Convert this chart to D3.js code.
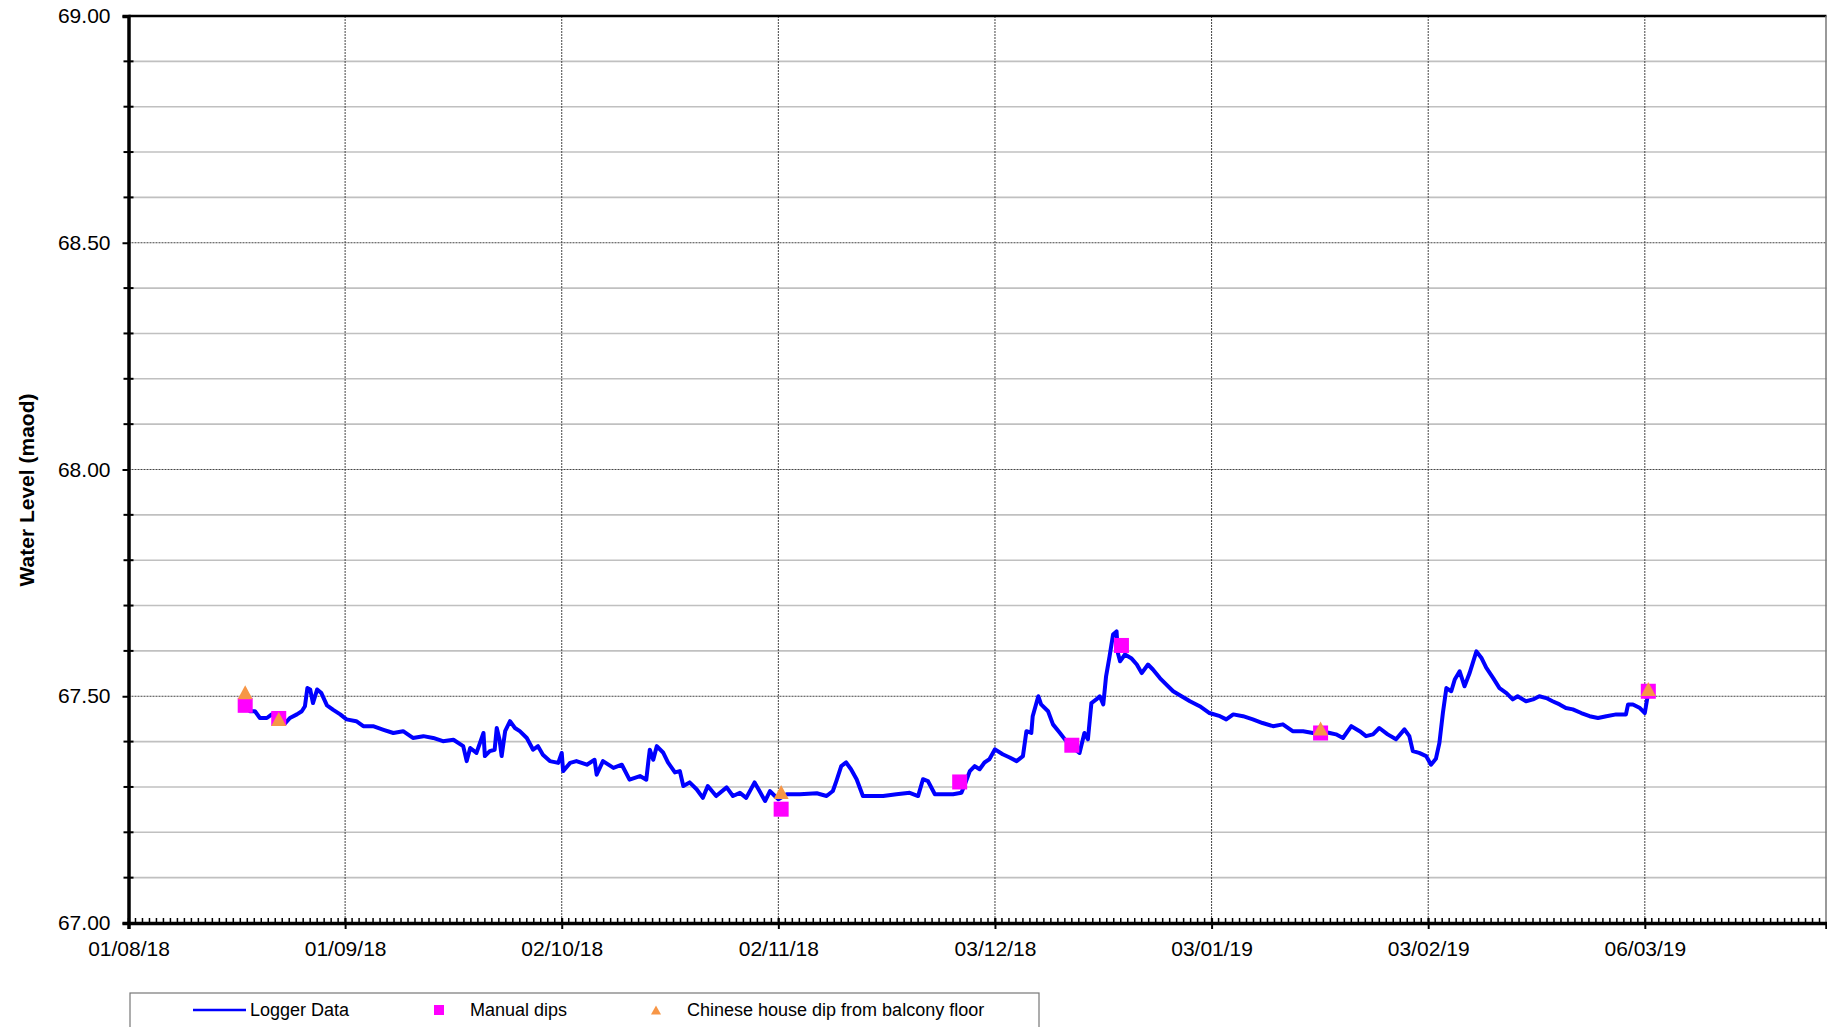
<!DOCTYPE html>
<html>
<head>
<meta charset="utf-8">
<script src="https://cdn.jsdelivr.net/npm/d3@7"></script>
<style>
  html, body { margin: 0; padding: 0; background: #fff; overflow: hidden; }
  svg { display: block; font-family: "Liberation Sans", Arial, sans-serif; }
</style>
</head>
<body>
<script>
// days after 01/08/18 -> water level (maod)
let loggerData = [
  [16.67,67.485],[17.38,67.467],[18.1,67.467],[18.8,67.452],[19.8,67.452],[20.5,67.46],[21.7,67.445],[22.4,67.44],
  [23.1,67.452],[24.1,67.46],[24.8,67.467],[25.25,67.478],[25.6,67.518],[26.0,67.515],[26.4,67.485],[27.0,67.515],
  [27.6,67.507],[28.4,67.48],[29.3,67.47],[30.3,67.46],[31.2,67.449],[32.6,67.445],[33.6,67.434],[35.0,67.434],
  [36.5,67.426],[37.9,67.419],[39.3,67.423],[40.7,67.408],[42.2,67.412],[43.6,67.408],[45.0,67.401],[46.5,67.404],
  [47.9,67.39],[48.4,67.357],[48.9,67.386],[49.8,67.375],[50.8,67.419],[51.0,67.368],[51.7,67.379],[52.4,67.382],
  [52.7,67.43],[53.1,67.404],[53.4,67.368],[53.9,67.423],[54.6,67.445],[55.3,67.43],[56.0,67.423],[57.0,67.408],
  [57.9,67.382],[58.6,67.39],[59.3,67.371],[60.3,67.357],[61.5,67.353],[62.0,67.375],[62.2,67.335],[63.2,67.353],
  [64.1,67.357],[65.6,67.349],[66.7,67.36],[67.0,67.327],[67.9,67.357],[69.4,67.342],[70.6,67.349],[71.7,67.316],
  [73.2,67.324],[74.1,67.316],[74.4,67.357],[74.6,67.382],[75.1,67.36],[75.6,67.39],
  [76.5,67.376],[77.2,67.354],[78.2,67.332],[78.9,67.335],[79.4,67.302],[80.3,67.31],[81.3,67.295],[82.2,67.276],
  [82.9,67.302],[84.1,67.28],[85.6,67.299],[86.5,67.28],[87.5,67.287],[88.4,67.276],[89.6,67.31],[90.3,67.291],
  [91.1,67.269],[91.8,67.291],[92.5,67.28],[93.0,67.273],[94.2,67.284],[96.1,67.284],[98.5,67.286],[99.9,67.28],
  [100.8,67.291],[101.3,67.313],[102.0,67.346],[102.7,67.354],[103.4,67.339],[104.2,67.317],[105.1,67.28],[106.1,67.28],
  [108.0,67.28],[109.9,67.284],[111.8,67.287],[113.0,67.28],[113.7,67.317],[114.4,67.313],[115.4,67.284],[116.6,67.284],
  [118.0,67.284],[119.2,67.287],[119.7,67.306],[120.4,67.335],[121.1,67.346],[121.8,67.339],[122.5,67.354],[123.2,67.361],
  [124.0,67.383],[125.1,67.372],[126.1,67.365],[127.1,67.357],[128.0,67.368],
  [128.5,67.423],[129.2,67.419],[129.4,67.456],[130.2,67.5],[130.6,67.482],[131.6,67.467],[132.3,67.438],[133.3,67.419],
  [134.2,67.401],[135.2,67.386],[136.1,67.375],[136.8,67.419],[137.3,67.405],[137.8,67.485],[138.5,67.493],[139.0,67.5],
  [139.5,67.482],[139.9,67.544],[140.4,67.588],[140.9,67.636],[141.4,67.643],[141.6,67.595],[141.9,67.577],[142.6,67.592],
  [143.5,67.584],[144.3,67.57],[145.0,67.551],[145.9,67.57],[146.6,67.559],[147.6,67.54],[148.5,67.526],[149.5,67.511],
  [150.7,67.5],[151.9,67.489],[153.3,67.478],[154.7,67.463],[156.2,67.456],[157.1,67.449],[158.1,67.46],[159.5,67.456],
  [160.9,67.449],[162.3,67.441],[163.8,67.434],[165.2,67.438],[166.6,67.423],[168.1,67.423],[169.5,67.419],[170.7,67.423],
  [171.9,67.419],[172.8,67.416],[173.8,67.408],[175.0,67.434],[176.2,67.423],[177.1,67.412],[178.1,67.416],[179.0,67.43],
  [180.2,67.416],[181.4,67.405],
  [182.6,67.427],[183.3,67.412],[183.8,67.379],[184.7,67.375],[185.7,67.368],[186.4,67.349],[187.1,67.362],[187.6,67.397],
  [188.1,67.463],[188.6,67.518],[189.3,67.511],[189.8,67.537],[190.5,67.555],[191.2,67.522],[191.9,67.55],[192.9,67.599],
  [193.6,67.585],[194.3,67.563],[195.3,67.54],[196.2,67.518],[197.2,67.507],[198.1,67.493],[198.8,67.5],[200.0,67.489],
  [201.0,67.493],[201.9,67.5],[202.9,67.496],[203.8,67.489],[204.8,67.482],[205.7,67.474],[206.7,67.471],[207.9,67.463],
  [209.1,67.456],[210.3,67.452],[211.5,67.456],[212.9,67.46],[214.3,67.46],[214.6,67.482],[215.3,67.482],[216.3,67.474],
  [217.0,67.463],[217.4,67.5]
]

let manualDips = [
  [16.7,67.48],[21.5,67.451],[93.4,67.251],[118.95,67.311],[135.0,67.392],[142.1,67.612],[170.6,67.419],[217.5,67.511]
]

let balconyDips = [
  [16.7,67.509],[21.5,67.45],[93.4,67.289],[170.6,67.429],[217.5,67.516]
]

let yMajorTicks = [67, 67.5, 68, 68.5, 69]
let tickEvery = 31   // days between date labels
let legendLabels = ["Logger Data", "Manual dips", "Chinese house dip from balcony floor"]

let width = 1827
let height = 1027
let plotLeft = 128.5
let plotRight = 1826.5
let plotTop = 16
let plotBottom = 923

let start = new Date(Date.UTC(2018, 7, 1))
let end = new Date(Date.UTC(2019, 3, 1))
let toDate = (d) => new Date(start.getTime() + d * 864e5)

let svg = d3.select("body").append("svg")
            .attr("width", width)
            .attr("height", height)

let xScale = d3.scaleUtc().domain([start, end]).range([plotLeft, plotRight])
let yScale = d3.scaleLinear().domain([67, 69]).range([plotBottom, plotTop])

let xTicks = d3.range(0, 218, tickEvery).map(toDate)
let yMinor = d3.range(670, 691).map(v => v / 10).filter(v => Math.round(v * 10) % 5 !== 0)
let days = d3.utcDay.range(start, end)

// minor horizontal grid
svg.append("g").selectAll("line")
    .data(yMinor)
    .enter().append("line")
    .attr("x1", plotLeft).attr("x2", plotRight)
    .attr("y1", d => yScale(d)).attr("y2", d => yScale(d))
    .attr("stroke", "#c0c0c0").attr("stroke-width", 1.6)

// major horizontal grid (dotted)
svg.append("g").selectAll("line")
    .data(yMajorTicks.slice(1, -1))
    .enter().append("line")
    .attr("x1", plotLeft).attr("x2", plotRight)
    .attr("y1", d => yScale(d)).attr("y2", d => yScale(d))
    .attr("stroke", "#444").attr("stroke-width", 1).attr("stroke-dasharray", "2,1")

// vertical grid (dotted)
svg.append("g").selectAll("line")
    .data(xTicks.slice(1))
    .enter().append("line")
    .attr("x1", d => xScale(d)).attr("x2", d => xScale(d))
    .attr("y1", plotTop).attr("y2", plotBottom)
    .attr("stroke", "#444").attr("stroke-width", 1).attr("stroke-dasharray", "2,1")

// plot frame: top and right
svg.append("line").attr("x1", plotLeft).attr("x2", plotRight).attr("y1", plotTop).attr("y2", plotTop)
    .attr("stroke", "#000").attr("stroke-width", 2.5)
svg.append("line").attr("x1", plotRight - 0.5).attr("x2", plotRight - 0.5).attr("y1", plotTop).attr("y2", plotBottom)
    .attr("stroke", "#777").attr("stroke-width", 1.5)

// logger line
let line = d3.line()
    .x(d => xScale(toDate(d[0])))
    .y(d => yScale(d[1]))

svg.append("path")
    .datum(loggerData)
    .attr("fill", "none")
    .attr("stroke", "#0000ff")
    .attr("stroke-width", 4)
    .attr("stroke-linejoin", "round")
    .attr("d", line)

// manual dips (squares)
svg.append("g").selectAll("rect")
    .data(manualDips)
    .enter().append("rect")
    .attr("x", d => xScale(toDate(d[0])) - 7.5)
    .attr("y", d => yScale(d[1]) - 7.5)
    .attr("width", 15).attr("height", 15)
    .attr("fill", "#ff00ff")

// balcony dips (triangles)
let tri = (cx, cy, w, h) => `M${cx - w / 2},${cy + h / 2}L${cx},${cy - h / 2}L${cx + w / 2},${cy + h / 2}Z`
svg.append("g").selectAll("path")
    .data(balconyDips)
    .enter().append("path")
    .attr("d", d => tri(xScale(toDate(d[0])), yScale(d[1]), 15, 14))
    .attr("fill", "#f79646")

// y axis
let yAxis = svg.append("g")
    .attr("transform", `translate(${plotLeft},0)`)
    .call(d3.axisLeft(yScale).tickValues(yMajorTicks).tickFormat(d3.format(".2f")).tickSize(6).tickPadding(12))
yAxis.select(".domain").attr("stroke", "#000").attr("stroke-width", 3.5)
yAxis.selectAll(".tick line").attr("stroke-width", 2)
yAxis.selectAll("text").attr("font-size", 21).attr("fill", "#000").attr("font-family", "Liberation Sans, Arial")

svg.append("g").selectAll("line")
    .data(yMinor)
    .enter().append("line")
    .attr("x1", plotLeft - 5).attr("x2", plotLeft + 5)
    .attr("y1", d => yScale(d)).attr("y2", d => yScale(d))
    .attr("stroke", "#000").attr("stroke-width", 2)

// x axis
let xAxis = svg.append("g")
    .attr("transform", `translate(0,${plotBottom})`)
    .call(d3.axisBottom(xScale).tickValues(xTicks).tickFormat(d3.utcFormat("%d/%m/%y")).tickSize(6).tickPadding(12))
xAxis.select(".domain").attr("stroke", "#000").attr("stroke-width", 3.5)
xAxis.selectAll(".tick line").attr("y1", -5).attr("y2", 6).attr("stroke-width", 2)
xAxis.selectAll("text").attr("font-size", 21).attr("fill", "#000").attr("font-family", "Liberation Sans, Arial")

svg.append("g").selectAll("line")
    .data(days)
    .enter().append("line")
    .attr("x1", d => xScale(d)).attr("x2", d => xScale(d))
    .attr("y1", plotBottom - 5).attr("y2", plotBottom)
    .attr("stroke", "#000").attr("stroke-width", 1.5)

// y title
svg.append("text")
    .attr("transform", `translate(34,490) rotate(-90)`)
    .attr("text-anchor", "middle")
    .attr("font-size", 21)
    .attr("font-weight", "bold")
    .text("Water Level (maod)")

// legend
let legend = svg.append("g")
legend.append("rect")
    .attr("x", 130).attr("y", 993).attr("width", 909).attr("height", 60)
    .attr("fill", "#fff").attr("stroke", "#777").attr("stroke-width", 1.2)
legend.append("line")
    .attr("x1", 193).attr("x2", 246).attr("y1", 1010).attr("y2", 1010)
    .attr("stroke", "#0000ff").attr("stroke-width", 2.5)
legend.append("rect")
    .attr("x", 434).attr("y", 1005).attr("width", 10).attr("height", 10)
    .attr("fill", "#ff00ff")
legend.append("path")
    .attr("d", tri(656, 1010, 10, 9))
    .attr("fill", "#f79646")
let legendX = [250, 470, 687]
legend.selectAll("text")
    .data(legendLabels)
    .enter().append("text")
    .attr("x", (d, i) => legendX[i])
    .attr("y", 1016)
    .attr("font-size", 18)
    .text(d => d)
</script>
</body>
</html>
